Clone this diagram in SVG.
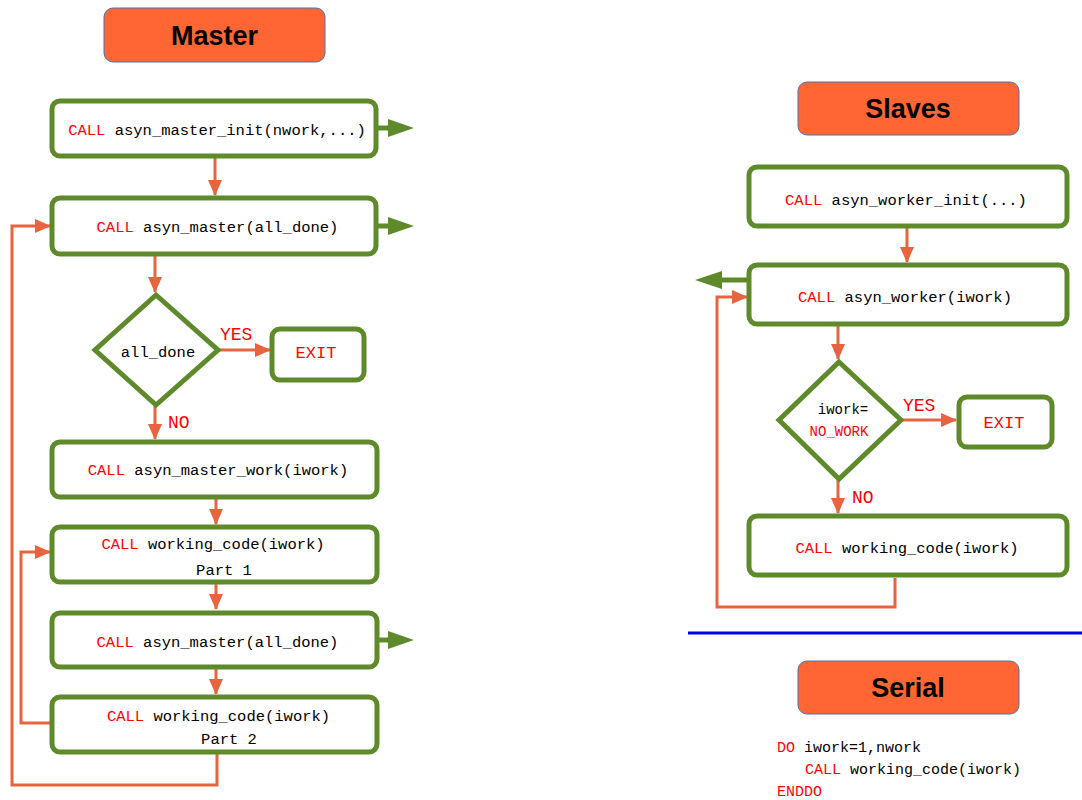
<svg xmlns="http://www.w3.org/2000/svg" width="1082" height="800" viewBox="0 0 1082 800">
<defs>
<marker id="oa" markerUnits="userSpaceOnUse" markerWidth="16" markerHeight="14" refX="15" refY="7" orient="auto"><path d="M0,0 L16,7 L0,14 Z" fill="#e8643e"/></marker>
<style>
.hdr{fill:#ff6633;stroke:#4a72b0;stroke-width:1}
.ht{font-family:"Liberation Sans",Arial,sans-serif;font-weight:bold;font-size:27px;fill:#000;text-anchor:middle}
.box{fill:#fff;stroke:#5e8a2a;stroke-width:5}
.t{font-family:"Liberation Mono","DejaVu Sans Mono",monospace;font-size:15.5px;fill:#000;text-anchor:middle}
.r{fill:#ff0000}
.oc{fill:none;stroke:#e8643e;stroke-width:3}
.gc{fill:none;stroke:#5e8a2a;stroke-width:5}
.gh{fill:#5e8a2a}
.lab{font-family:"Liberation Mono","DejaVu Sans Mono",monospace;font-size:18px;fill:#ff0000}
</style>
</defs>
<rect width="1082" height="800" fill="#fff"/>

<g id="connectors">
<path class="oc" d="M215,158 V195" marker-end="url(#oa)"/>
<path class="oc" d="M155,256 V292" marker-end="url(#oa)"/>
<path class="oc" d="M219,350 H270" marker-end="url(#oa)"/>
<path class="oc" d="M155,405 V439" marker-end="url(#oa)"/>
<path class="oc" d="M216,499 V524" marker-end="url(#oa)"/>
<path class="oc" d="M216,584 V609" marker-end="url(#oa)"/>
<path class="oc" d="M216,669 V694" marker-end="url(#oa)"/>
<path class="oc" d="M50,723 H21 V552 H50" marker-end="url(#oa)"/>
<path class="oc" d="M217,754 V785 H12 V226 H50" marker-end="url(#oa)"/>
<path class="gc" d="M378,128 H392"/><path class="gh" d="M388,119 L414,128 L388,137 Z"/>
<path class="gc" d="M378,226 H392"/><path class="gh" d="M388,217 L414,226 L388,235 Z"/>
<path class="gc" d="M378,640 H392"/><path class="gh" d="M388,631 L414,640 L388,649 Z"/>

<path class="oc" d="M907,228 V262" marker-end="url(#oa)"/>
<path class="gc" d="M747,280 H718"/><path class="gh" d="M722,271 L695,280 L722,289 Z"/>
<path class="oc" d="M838,326 V359" marker-end="url(#oa)"/>
<path class="oc" d="M902,420 H956" marker-end="url(#oa)"/>
<path class="oc" d="M838,480 V513" marker-end="url(#oa)"/>
<path class="oc" d="M895,578 V607 H717 V297 H747" marker-end="url(#oa)"/>
<text class="lab" x="220" y="340">YES</text>
<text class="lab" x="168" y="428">NO</text>
<text class="lab" x="903" y="411">YES</text>
<text class="lab" x="852" y="503">NO</text>
</g>

<g id="master-header"><rect class="hdr" x="104" y="8" width="221" height="54" rx="9"/><text class="ht" x="214.5" y="45">Master</text></g>
<g id="m-init"><rect class="box" x="52" y="101" width="324" height="55" rx="8"/><text class="t" x="217" y="135"><tspan class="r">CALL</tspan> asyn_master_init(nwork,...)</text></g>
<g id="m-master1"><rect class="box" x="52" y="198" width="324" height="56" rx="8"/><text class="t" x="217.5" y="232"><tspan class="r">CALL</tspan> asyn_master(all_done)</text></g>
<g id="m-decision"><path class="box" d="M156,295 L218,350 L156,405 L95,350 Z"/><text class="t" x="158" y="357">all_done</text></g>
<g id="m-exit"><rect class="box" x="272" y="329" width="92" height="51" rx="8"/><text class="t" x="316" y="358" style="fill:#ff0000;font-size:17px">EXIT</text></g>
<g id="m-work"><rect class="box" x="52" y="442" width="325" height="55" rx="8"/><text class="t" x="218" y="475"><tspan class="r">CALL</tspan> asyn_master_work(iwork)</text></g>
<g id="m-code1"><rect class="box" x="52" y="527" width="325" height="55" rx="8"/><text class="t" x="213" y="549"><tspan class="r">CALL</tspan> working_code(iwork)</text><text class="t" x="224" y="575">Part 1</text></g>
<g id="m-master2"><rect class="box" x="52" y="613" width="325" height="54" rx="8"/><text class="t" x="217.5" y="647"><tspan class="r">CALL</tspan> asyn_master(all_done)</text></g>
<g id="m-code2"><rect class="box" x="52" y="697" width="325" height="55" rx="8"/><text class="t" x="218.5" y="721"><tspan class="r">CALL</tspan> working_code(iwork)</text><text class="t" x="229" y="744">Part 2</text></g>

<g id="slaves-header"><rect class="hdr" x="798" y="82" width="221" height="53" rx="9"/><text class="ht" x="908" y="118">Slaves</text></g>
<g id="s-init"><rect class="box" x="749" y="167" width="318" height="59" rx="8"/><text class="t" x="906" y="205"><tspan class="r">CALL</tspan> asyn_worker_init(...)</text></g>
<g id="s-worker"><rect class="box" x="749" y="265" width="318" height="59" rx="8"/><text class="t" x="905" y="302"><tspan class="r">CALL</tspan> asyn_worker(iwork)</text></g>
<g id="s-decision"><path class="box" d="M839,362 L901,420 L839,479 L779,420 Z"/><text class="t" x="843" y="414" style="font-size:14px">iwork=</text><text class="t r" x="839" y="436" style="font-size:14px;fill:#ff0000">NO_WORK</text></g>
<g id="s-exit"><rect class="box" x="959" y="397" width="93" height="50" rx="8"/><text class="t" x="1004" y="428" style="fill:#ff0000;font-size:17px">EXIT</text></g>
<g id="s-code"><rect class="box" x="749" y="516" width="318" height="59" rx="8"/><text class="t" x="907" y="553"><tspan class="r">CALL</tspan> working_code(iwork)</text></g>

<g id="divider"><line x1="688" y1="633" x2="1082" y2="633" stroke="#0000e0" stroke-width="3"/></g>

<g id="serial-header"><rect class="hdr" x="798" y="661" width="221" height="53" rx="9"/><text class="ht" x="908" y="697">Serial</text></g>
<g id="serial-code" style="font-family:'Liberation Mono','DejaVu Sans Mono',monospace;font-size:15px">
<text x="777" y="752"><tspan fill="#ff0000">DO</tspan> iwork=1,nwork</text>
<text x="805" y="774"><tspan fill="#ff0000">CALL</tspan> working_code(iwork)</text>
<text x="777" y="796" fill="#ff0000">ENDDO</text>
</g>
</svg>
